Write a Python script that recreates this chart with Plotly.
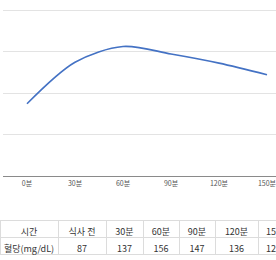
import plotly.graph_objects as go

# data
time_labels = ["0분", "30분", "60분", "90분", "120분", "150분"]
glucose = [87, 137, 156, 147, 136, 122]
table_header = ["시간", "식사 전", "30분", "60분", "90분", "120분", "150분"]
table_row = ["혈당(mg/dL)", "87", "137", "156", "147", "136", "122"]

W, H = 276, 260
FONT = "Noto Sans CJK KR, Noto Sans, sans-serif"

fig = go.Figure()

fig.add_trace(go.Scatter(
    x=time_labels, y=glucose, mode="lines",
    line=dict(color="#4472C4", width=1.6, shape="spline", smoothing=0.9),
    hoverinfo="skip", showlegend=False,
    xaxis="x", yaxis="y",
))

col_widths = [58, 48, 37, 36, 36, 43, 18]
aligns = ["center"] * 6 + ["left"]

fig.add_trace(go.Table(
    domain=dict(x=[0, 1], y=[1 - 256 / H, 1 - 220 / H]),
    columnwidth=col_widths,
    header=dict(
        values=table_header,
        height=17,
        align=aligns,
        fill=dict(color="white"),
        line=dict(color="#dcdcdc", width=1),
        font=dict(family=FONT, size=9, color="#333333"),
    ),
    cells=dict(
        values=[[v] for v in table_row],
        height=17,
        align=aligns,
        fill=dict(color="white"),
        line=dict(color="#dcdcdc", width=1),
        font=dict(family=FONT, size=9, color="#333333"),
    ),
))

fig.update_layout(
    width=W, height=H,
    margin=dict(l=0, r=0, t=0, b=0),
    paper_bgcolor="white", plot_bgcolor="white",
    font=dict(family=FONT),
    xaxis=dict(
        domain=[3 / W, 1],
        type="category",
        range=[-0.5, -0.5 + (W - 3) / 48.0],
        showgrid=False, zeroline=False,
        showline=True, linecolor="#8a8a8a", linewidth=1.2,
        ticks="", ticklen=0,
        tickfont=dict(family=FONT, size=7, color="#555555"),
        anchor="y",
    ),
    yaxis=dict(
        domain=[1 - 176 / H, 1 - 1.7 / H],
        range=[0, 210],
        tickvals=[0, 50, 100, 150, 200],
        showticklabels=False,
        showgrid=True, gridcolor="#e3e3e3", gridwidth=1,
        zeroline=False, showline=False,
        anchor="x",
    ),
)

fig.write_html("out.html")
